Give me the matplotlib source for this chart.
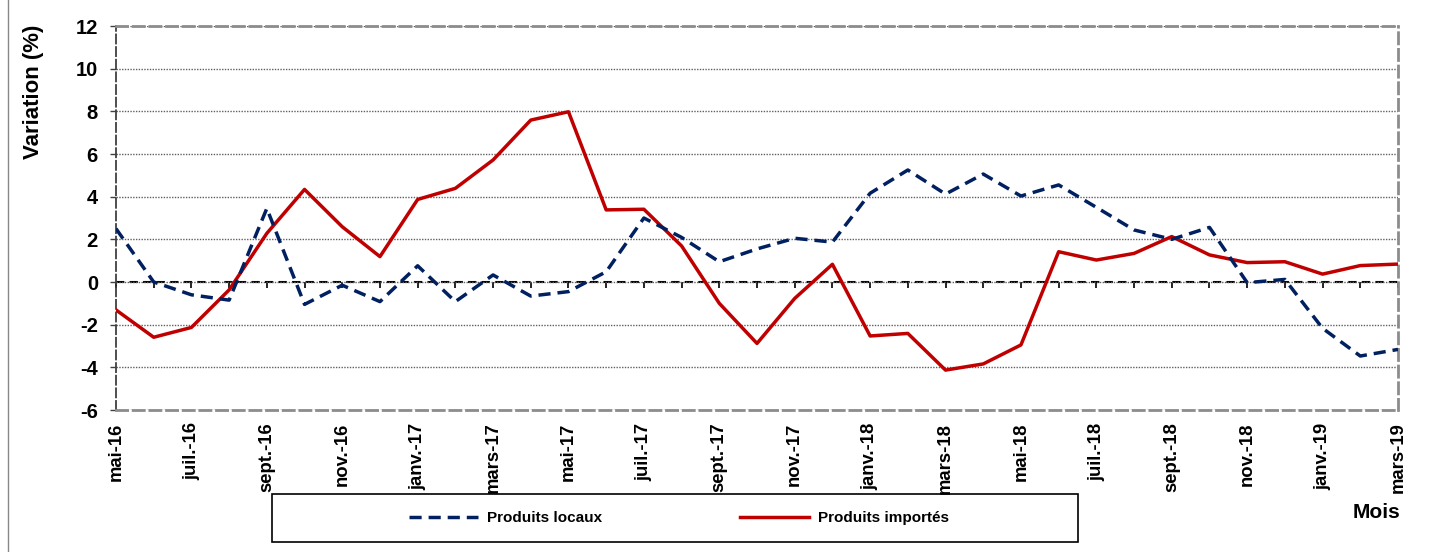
import matplotlib
matplotlib.use("Agg")
import matplotlib.pyplot as plt
import numpy as np
from matplotlib.patches import Rectangle
from matplotlib.lines import Line2D

plt.rcParams['font.family'] = ['Liberation Sans', 'DejaVu Sans']
plt.rcParams['axes.unicode_minus'] = False

# monthly data, mai-16 .. mars-19
months = ['mai-16', 'juin-16', 'juil.-16', 'août-16', 'sept.-16', 'oct.-16', 'nov.-16', 'déc.-16',
          'janv.-17', 'févr.-17', 'mars-17', 'avr.-17', 'mai-17', 'juin-17', 'juil.-17', 'août-17',
          'sept.-17', 'oct.-17', 'nov.-17', 'déc.-17', 'janv.-18', 'févr.-18', 'mars-18', 'avr.-18',
          'mai-18', 'juin-18', 'juil.-18', 'août-18', 'sept.-18', 'oct.-18', 'nov.-18', 'déc.-18',
          'janv.-19', 'févr.-19', 'mars-19']
produits_locaux = [2.5, 0.0, -0.6, -0.85, 3.45, -1.05, -0.15, -0.92, 0.76, -0.92, 0.33, -0.66,
                   -0.45, 0.48, 3.0, 2.09, 0.95, 1.55, 2.05, 1.87, 4.16, 5.25, 4.12, 5.06,
                   4.03, 4.55, 3.5, 2.44, 2.0, 2.56, -0.03, 0.12, -2.17, -3.47, -3.16]
produits_importes = [-1.31, -2.59, -2.13, -0.37, 2.28, 4.34, 2.59, 1.19, 3.87, 4.39, 5.72, 7.59,
                     7.98, 3.38, 3.41, 1.69, -1.0, -2.88, -0.77, 0.83, -2.53, -2.41, -4.13, -3.84,
                     -2.95, 1.42, 1.03, 1.34, 2.13, 1.27, 0.91, 0.95, 0.37, 0.77, 0.84]
yticks = [-6, -4, -2, 0, 2, 4, 6, 8, 10, 12]

x = np.arange(len(months))

fig = plt.figure(figsize=(14.34, 5.52), dpi=100)
ax = fig.add_axes([116/1434, 142/552, 1282/1434, 384/552])

ax.grid(axis='y', linestyle=(0, (1, 1)), color='#606060', lw=1, zorder=0)
ax.axhline(0, color='black', lw=1.5, ls=(0, (4, 2.5)), zorder=1)

ax.plot(x, produits_importes, color='#C00000', lw=2.5, label='Produits importés', zorder=3)
ax.plot(x, produits_locaux, color='#002060', lw=2.5, dashes=(3.5, 2), label='Produits locaux', zorder=4)

ax.set_xlim(0, len(months) - 1)
ax.set_ylim(-6, 12)
ax.set_yticks(yticks)
ax.set_yticklabels([str(v) for v in yticks], fontsize=14.5, fontweight='bold')
ax.set_xticks(x[::2])
ax.set_xticklabels(months[::2], rotation=90, fontsize=13.3, fontweight='bold', va='top', ha='center')
ax.tick_params(axis='x', length=0, pad=9)
ax.tick_params(axis='y', length=4, width=1, color='#404040', pad=9)

for s in ['top', 'right', 'bottom']:
    ax.spines[s].set_color('#8c8c8c')
    ax.spines[s].set_linewidth(2)
    ax.spines[s].set_linestyle((0, (4, 2)))
ax.spines['left'].set_color('#404040')
ax.spines['left'].set_linewidth(1.3)
ax.spines['left'].set_linestyle((0, (5, 2)))

# month ticks on the zero line
sec = ax.secondary_xaxis(6/18)
sec.set_xticks(x)
sec.set_xticklabels([])
sec.tick_params(axis='x', direction='out', length=4, width=1.2, color='black')
sec.spines['bottom'].set_visible(False)

fig.text(33/1434, 1 - 92/552, 'Variation (%)', rotation=90, ha='center', va='center',
         fontsize=16, fontweight='bold')
fig.text(1376/1434, 1 - 513/552, 'Mois', ha='center', va='center', fontsize=15, fontweight='bold')

# legend box
fig.patches.append(Rectangle((272/1434, 10/552), 806/1434, 48/552, transform=fig.transFigure,
                             fill=False, edgecolor='black', lw=1.2, zorder=5))
handles, labels = ax.get_legend_handles_labels()
fig.legend(handles[::-1], labels[::-1], loc='center', bbox_to_anchor=(679/1434, 1 - 518/552),
           ncol=2, frameon=False, handlelength=4.5, handletextpad=0.6, columnspacing=9,
           prop={'size': 11, 'weight': 'bold'})

# outer chart border (left edge visible)
fig.add_artist(Line2D([8/1434, 8/1434], [0, 1], transform=fig.transFigure, color='#888888', lw=1))

fig.savefig('out.png', dpi=100)
